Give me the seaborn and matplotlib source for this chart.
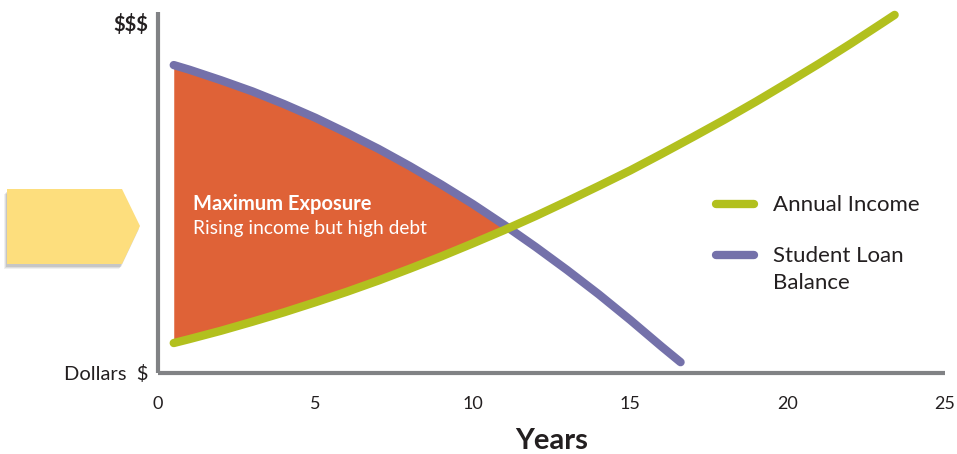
import numpy as np
import matplotlib.pyplot as plt
from matplotlib.patches import Polygon
from matplotlib.lines import Line2D
import seaborn as sns

# Values (y on a 0-100 "dollars" scale)
income_years = [0.5, 1, 2, 3, 4, 5, 6, 7, 8, 9, 10, 11, 12, 13, 14, 15, 16,
                17, 18, 19, 20, 21, 22, 23, 23.4]
income_values = [8.3, 9.4, 11.7, 14.2, 16.8, 19.6, 22.5, 25.6, 28.9, 32.3, 35.9,
                 39.6, 43.5, 47.6, 51.8, 56.1, 60.7, 65.4, 70.2, 75.2, 80.4,
                 85.7, 91.2, 96.9, 99.2]
loan_years = [0.5, 1, 2, 3, 4, 5, 6, 7, 8, 9, 10, 11, 12, 13, 14, 15, 16, 16.6]
loan_values = [85.3, 84.0, 81.1, 78.0, 74.5, 70.7, 66.5, 62.1, 57.3, 52.2, 46.8,
               41.0, 34.9, 28.5, 21.8, 14.7, 7.3, 3.0]

x_major = [0, 5, 10, 15, 20, 25]
x_minor = list(range(0, 26))
y_ticks = [0, 97.2]
y_tick_labels = ["Dollars  \\$", "\\$\\$\\$"]
legend_labels = ["Annual Income", "Student Loan\nBalance"]
region_title = "Maximum Exposure"
region_note = "Rising income but high debt"
x_label = "Years"

INCOME_COLOR = "#B2C01E"
LOAN_COLOR = "#7471AA"
FILL_COLOR = "#DF6237"
AXIS_GRAY = "#818285"
TEXT_COLOR = "#231F20"
ARROW_COLOR = "#FDDE7D"

sns.set_style("white")
plt.rcParams["font.family"] = ["Lato", "DejaVu Sans"]

W, H = 957, 454
fig = plt.figure(figsize=(W / 100, H / 100), dpi=100)
ax = fig.add_axes([158 / W, 1 - 373 / H, 787 / W, 361 / H])


def fx(px):
    return px / W


def fy(py):
    return 1 - py / H


# highlighted region where the loan balance is above income
n_shared = len(loan_years) - 1
shared_years = np.array(loan_years[:n_shared])
loan_arr = np.array(loan_values[:n_shared])
income_arr = np.array(income_values[:n_shared])
ax.fill_between(shared_years, income_arr, loan_arr, where=loan_arr >= income_arr,
                interpolate=True, color=FILL_COLOR, lw=0, zorder=1)

sns.lineplot(x=loan_years, y=loan_values, ax=ax, color=LOAN_COLOR, lw=6,
             solid_capstyle="round", solid_joinstyle="round", zorder=3, clip_on=False)
sns.lineplot(x=income_years, y=income_values, ax=ax, color=INCOME_COLOR, lw=6,
             solid_capstyle="round", solid_joinstyle="round", zorder=4, clip_on=False)

ax.set_xlim(0, 25)
ax.set_ylim(0, 100)

for side in ["top", "right"]:
    ax.spines[side].set_visible(False)
for side in ["left", "bottom"]:
    ax.spines[side].set_color(AXIS_GRAY)
    ax.spines[side].set_linewidth(3)
    ax.spines[side].set_capstyle("butt")

ax.set_xticks(x_major)
ax.set_xticks(x_minor, minor=True)
ax.tick_params(axis="x", which="major", direction="out", length=7.5, width=2.2,
               color=AXIS_GRAY, labelsize=13, labelcolor=TEXT_COLOR, pad=9)
ax.tick_params(axis="x", which="minor", direction="out", length=7.5, width=1.4,
               color=AXIS_GRAY)

ax.set_yticks(y_ticks)
ax.set_yticklabels(y_tick_labels)
ax.tick_params(axis="y", length=0, labelsize=14.5, labelcolor=TEXT_COLOR, pad=7)
ax.get_yticklabels()[1].set_fontweight("bold")

ax.set_xlabel(x_label, fontsize=21, fontweight="bold", color=TEXT_COLOR, labelpad=11.5)
ax.set_ylabel("")

ax.text(1.11, 46.8, region_title, color="white", fontsize=14.5, fontweight="bold",
        va="center", ha="left", zorder=5)
ax.text(1.11, 39.9, region_note, color="white", fontsize=13.8,
        va="center", ha="left", zorder=5)

# legend drawn by hand so the handle lines up with the first text line
for py, color, label in [(204, INCOME_COLOR, legend_labels[0]),
                         (255, LOAN_COLOR, legend_labels[1])]:
    fig.add_artist(Line2D([fx(716), fx(754)], [fy(py), fy(py)], color=color, lw=6,
                          solid_capstyle="round", transform=fig.transFigure))
    fig.text(fx(773), fy(py - 9), label, fontsize=16, color=TEXT_COLOR, va="top",
             ha="left", linespacing=1.45, transform=fig.transFigure)

# yellow pointer tab on the left, with a soft shadow
tab = [(7, 189), (122, 189), (140, 226), (122, 264), (7, 264)]
for off, alpha in [(5, 0.06), (4, 0.08), (3, 0.1)]:
    shadow = [(fx(x - off + 2), fy(y + off)) for x, y in tab]
    fig.add_artist(Polygon(shadow, closed=True, color="black", alpha=alpha,
                           lw=0, transform=fig.transFigure))
fig.add_artist(Polygon([(fx(x), fy(y)) for x, y in tab], closed=True,
                       color=ARROW_COLOR, lw=0, transform=fig.transFigure))

fig.savefig("out.png", dpi=100)
